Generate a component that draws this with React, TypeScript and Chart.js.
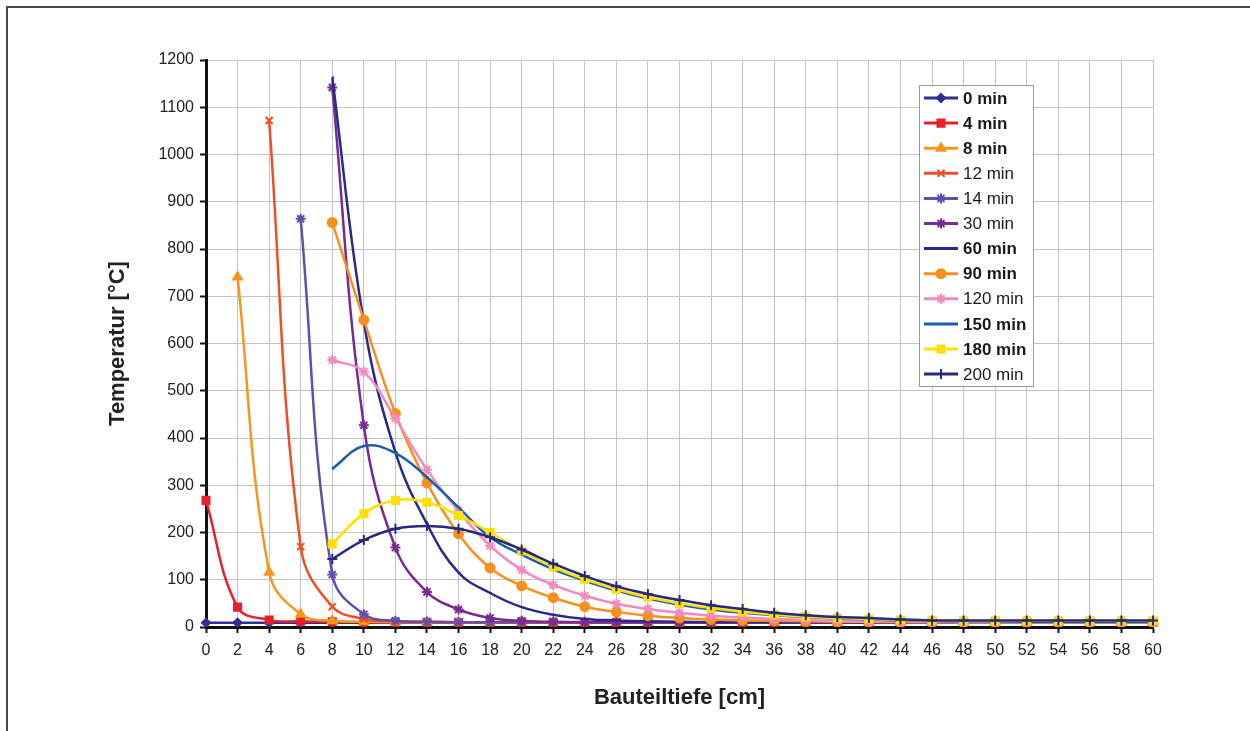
import React, { useEffect, useRef } from "react";
import { Chart, registerables } from "chart.js";
import { drawPoint } from "chart.js/helpers";

Chart.register(...registerables);

const depthLabels = ["0","2","4","6","8","10","12","14","16","18","20","22","24","26","28","30","32","34","36","38","40","42","44","46","48","50","52","54","56","58","60"];

const N = null;
const min0 = [9,9,9,9,9,9,9,9,9,9,9,9,9,9,9,9,9,9,9,9,9,9,9,9,9,9,9,9,9,9,9];
const min4 = [268,42,15,12,11,10,10,10,10,10,10,10,10,10,10,10,10,10,10,10,10,10,10,10,10,10,10,10,10,10,10];
const min8 = [N,741,116,27,13,11,10,10,10,10,10,10,10,10,10,10,10,10,10,10,10,10,10,10,10,10,10,10,10,10,10];
const min12 = [N,N,1072,170,43,17,12,11,10,10,10,10,10,10,10,10,10,10,10,10,10,10,10,10,10,10,10,10,10,10,10];
const min14 = [N,N,N,864,111,27,13,11,10,10,10,10,10,10,10,10,10,10,10,10,10,10,10,10,10,10,10,10,10,10,10];
const min30 = [N,N,N,N,1142,427,168,74,37,19,13,11,10,10,10,10,10,10,10,10,10,10,10,10,10,10,10,10,10,10,10];
const min60 = [N,N,N,N,1163,645,370,218,115,72,42,26,17,14,12,11,10,10,10,10,10,10,10,10,10,10,10,10,10,10,10];
const min90 = [N,N,N,N,856,650,452,305,197,125,87,62,43,32,24,19,16,14,13,12,11,11,10,10,10,10,10,10,10,10,10];
const min120 = [N,N,N,N,565,540,441,333,245,172,121,89,66,49,38,30,24,20,17,15,13,12,11,11,10,10,10,10,10,10,10];
const min150 = [N,N,N,N,335,383,368,317,253,190,153,122,98,77,60,47,37,30,25,21,18,16,14,13,12,12,11,11,11,11,11];
const min180 = [N,N,N,N,176,240,268,264,236,200,161,127,101,80,63,50,40,32,26,22,19,17,15,14,13,13,13,13,13,13,13];
const min200 = [N,N,N,N,144,184,208,214,208,190,164,134,108,86,70,57,46,38,30,25,21,19,16,14,14,14,14,14,14,14,14];

const seriesNames = ["0 min","4 min","8 min","12 min","14 min","30 min","60 min","90 min","120 min","150 min","180 min","200 min"];
const seriesData = [min0,min4,min8,min12,min14,min30,min60,min90,min120,min150,min180,min200];
const seriesColors = ["#2e3192","#e8202a","#f7961f","#f04e23","#5f4fb0","#7a2a90","#2a2a8e","#f7901e","#f28ac0","#1d5eac","#ffe000","#26297e"];
const seriesMarkers = ["rectRot","rect","triangle","crossRot","star","star","dash","circle","star","dash","rect","cross"];
const seriesRadius = [4,5,5,5,5,5,2,4.5,5,2,5,5];
const seriesBold = [true,true,true,false,false,false,true,true,false,true,true,false];

const FONT = "'Liberation Sans', Arial, sans-serif";

const legendPlugin = {
  id: "boxLegend",
  afterDraw(chart: any) {
    const ctx = chart.ctx;
    const bx = 919, by = 85, bw = 114, bh = 301;
    ctx.save();
    ctx.fillStyle = "#ffffff";
    ctx.fillRect(bx, by, bw, bh);
    ctx.strokeStyle = "#9a9a9a";
    ctx.lineWidth = 1;
    ctx.strokeRect(bx + 0.5, by + 0.5, bw, bh);
    seriesNames.forEach((name, i) => {
      const y = 98 + i * 25.1;
      ctx.strokeStyle = seriesColors[i];
      ctx.fillStyle = seriesColors[i];
      ctx.lineWidth = 3;
      ctx.beginPath();
      ctx.moveTo(924, y);
      ctx.lineTo(958, y);
      ctx.stroke();
      if (seriesMarkers[i] !== "dash") {
        ctx.lineWidth = 2;
        drawPoint(ctx, { pointStyle: seriesMarkers[i], radius: seriesRadius[i], borderWidth: 2, rotation: 0 } as any, 941, y);
      }
      ctx.fillStyle = "#1a1a1a";
      ctx.font = (seriesBold[i] ? "bold " : "") + "17px " + FONT;
      ctx.textBaseline = "middle";
      ctx.textAlign = "left";
      ctx.fillText(name, 963, y + 1);
    });
    ctx.restore();
  },
};

export default function App() {
  const ref = useRef<HTMLCanvasElement | null>(null);
  useEffect(() => {
    if (!ref.current) return;
    const datasets = seriesData.map((d, i) => ({
      label: seriesNames[i],
      data: d,
      borderColor: seriesColors[i],
      backgroundColor: seriesColors[i],
      borderWidth: 2.5,
      pointStyle: seriesMarkers[i],
      pointRadius: seriesRadius[i],
      pointBorderWidth: 2,
      pointBorderColor: seriesColors[i],
      pointBackgroundColor: seriesColors[i],
      tension: 0.4,
      spanGaps: false,
      order: seriesNames.length - i,
    }));
    const chart = new Chart(ref.current, {
      type: "line",
      data: { labels: depthLabels, datasets },
      options: {
        animation: false,
        responsive: false,
        devicePixelRatio: 1,
        layout: { padding: { top: 60, right: 97, left: 0, bottom: 0 } },
        plugins: { legend: { display: false }, tooltip: { enabled: false } },
        scales: {
          x: {
            type: "category",
            offset: false,
            grid: { color: "#c4c4c4", lineWidth: 1, tickColor: "#111", tickWidth: 2, tickLength: 6, drawTicks: true },
            border: { color: "#111", width: 3 },
            ticks: { font: { size: 16, family: FONT }, color: "#222", padding: 8, maxRotation: 0, autoSkip: false },
            title: { display: true, text: "Bauteiltiefe [cm]", color: "#222", font: { size: 22, weight: "bold", family: FONT }, padding: { top: 0, bottom: 20 } },
            afterFit: (s: any) => { s.height = 104; },
          },
          y: {
            min: 0,
            max: 1200,
            grid: { color: "#c4c4c4", lineWidth: 1, tickColor: "#111", tickWidth: 2, tickLength: 6, drawTicks: true },
            border: { color: "#111", width: 3 },
            ticks: { stepSize: 100, font: { size: 16, family: FONT }, color: "#222", padding: 6, callback: (v: any) => String(v) },
            title: { display: true, text: "Temperatur [°C]", color: "#222", font: { size: 22, weight: "bold", family: FONT }, padding: { top: 105, bottom: 0 } },
            afterFit: (s: any) => { s.width = 206; },
          },
        },
      },
      plugins: [legendPlugin],
    } as any);
    return () => chart.destroy();
  }, []);
  return (
    <div style={{ position: "fixed", left: 0, top: 0, width: 1250, height: 731, background: "#fff", overflow: "hidden" }}>
      <div style={{ position: "absolute", left: 6, top: 6, width: 1300, height: 800, borderLeft: "2px solid #4a4a4a", borderTop: "2px solid #4a4a4a" }} />
      <canvas ref={ref} width={1250} height={731} style={{ position: "absolute", left: 0, top: 0 }} />
    </div>
  );
}
